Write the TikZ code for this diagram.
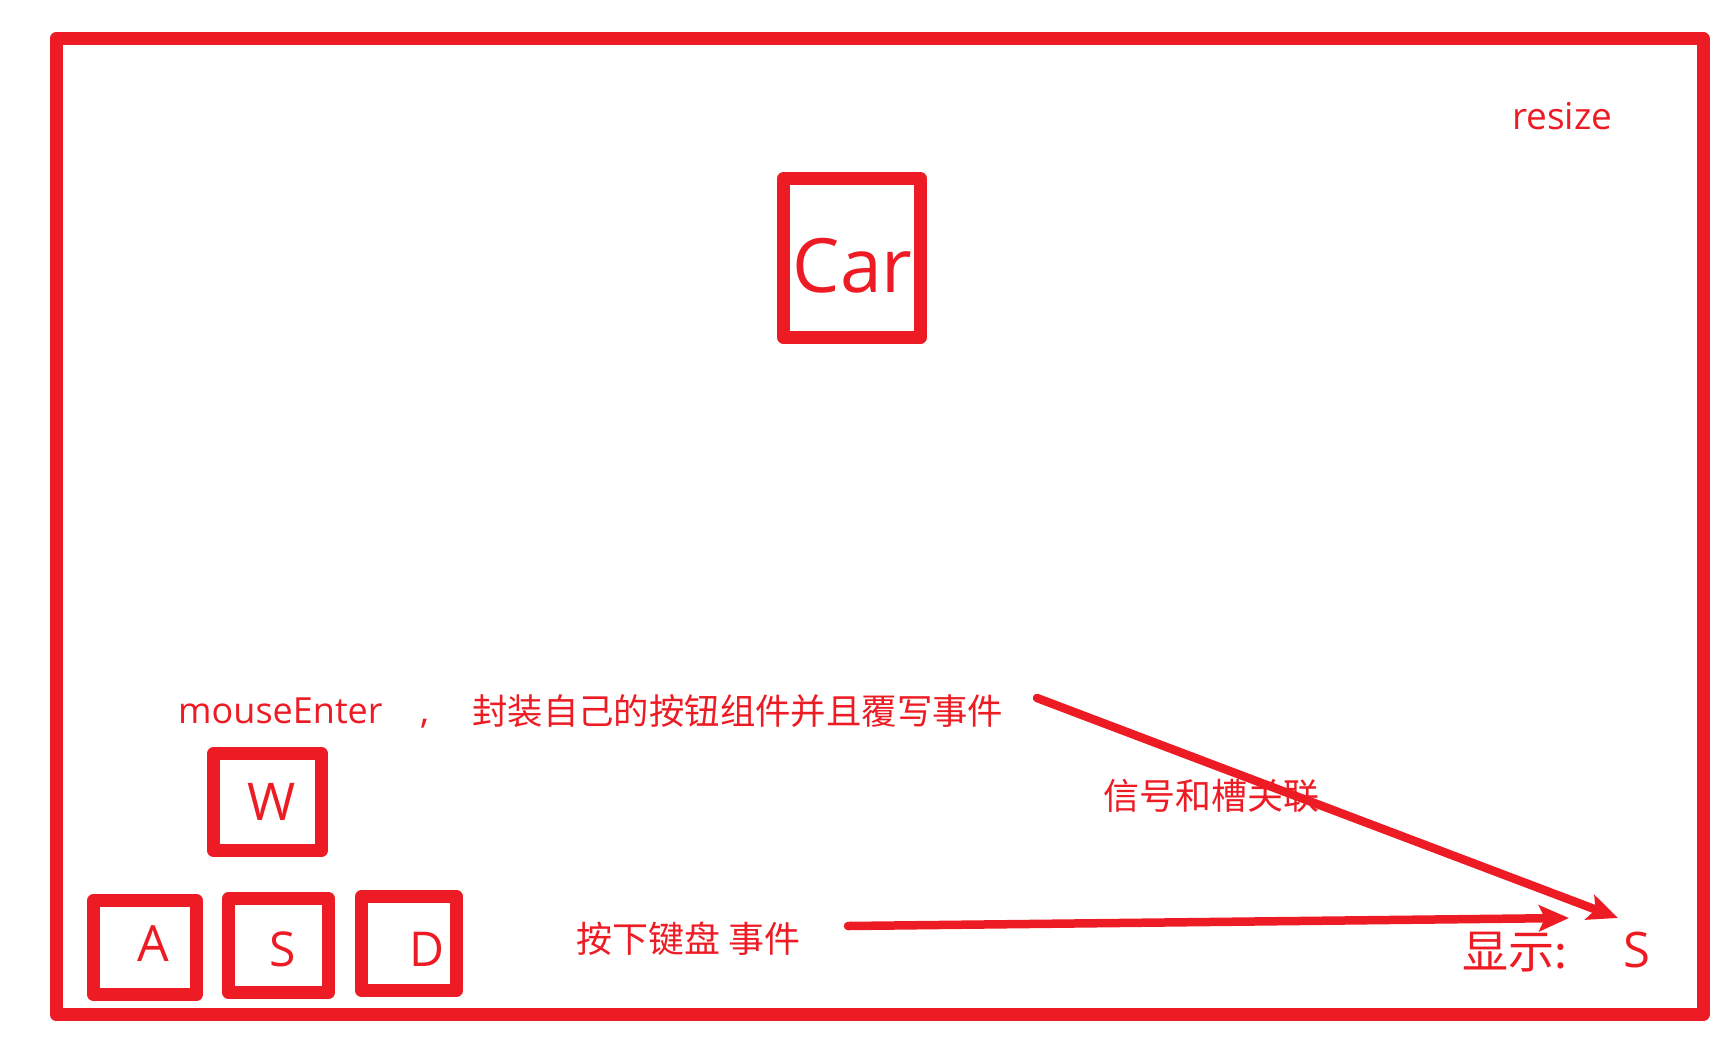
\documentclass[tikz,border=0pt]{standalone}
\usepackage{fontspec}
\setmainfont{Open Sans}
\newfontfamily\cjk{Noto Sans CJK SC}
\usetikzlibrary{arrows.meta}
\definecolor{pred}{RGB}{237,28,36}
\begin{document}
\begin{tikzpicture}[x=1pt,y=-1pt,
  box/.style={draw=pred,line width=13pt,line join=round,inner sep=0pt},
  txt/.style={text=pred,inner sep=0pt,anchor=base},
  ltxt/.style={text=pred,inner sep=0pt,anchor=base west},
  arr/.style={draw=pred,line width=8.5pt,line cap=round,-{Stealth[length=30pt,width=26pt,inset=6pt]}}]
\useasboundingbox (0,0) rectangle (1728,1046);
\node[box,minimum width=1647pt,minimum height=976pt] (frame) at (879.5,526.5) {};
\node[box,minimum width=137pt,minimum height=159pt] (carbox) at (852,258) {};
\node[box,minimum width=108pt,minimum height=97pt] (wbox) at (267.5,802) {};
\node[box,minimum width=103pt,minimum height=94pt] (abox) at (145,947.5) {};
\node[box,minimum width=100pt,minimum height=94pt] (sbox) at (278.5,945.5) {};
\node[box,minimum width=95pt,minimum height=94pt] (dbox) at (409,943.5) {};
\node[txt,font=\fontsize{75}{78}\selectfont] (cartxt) at (852.5,292) {Car};
\node[txt,font=\fontsize{52}{56}\selectfont] (wtxt) at (271.5,820) {W};
\node[txt,font=\fontsize{50}{54}\selectfont] (atxt) at (153,961) {A};
\node[txt,font=\fontsize{48}{52}\selectfont] (stxt) at (282.5,966) {S};
\node[txt,font=\fontsize{48}{52}\selectfont] (dtxt) at (427,966) {D};
\node[ltxt,font=\fontsize{37}{41}\selectfont] (resize) at (1512,129) {resize};
\node[ltxt,font=\fontsize{36}{40}\selectfont] (mouse) at (178,723) {mouseEnter};
\node[txt,font=\fontsize{37}{40}\selectfont] (comma) at (425,723) {,};
\node[ltxt,font=\cjk\fontsize{35.4}{40}\selectfont] (wrap) at (472,724.5) {封装自己的按钮组件并且覆写事件};
\node[ltxt,font=\cjk\fontsize{36}{40}\selectfont] (signal) at (1103,809) {信号和槽关联};
\node[ltxt,font=\cjk\fontsize{36}{40}\selectfont] (press) at (576,952.7) {按下键盘 事件};
\node[ltxt,font=\cjk\fontsize{46}{50}\selectfont] (show) at (1462,968.5) {显示:};
\node[txt,font=\fontsize{49}{53}\selectfont] (shown) at (1637,967) {S};
\coordinate (a1s) at (1037,698);
\coordinate (a1e) at (1618,918);
\coordinate (a2s) at (848,926);
\coordinate (a2e) at (1569,918);
\draw[arr] (a1s) -- (a1e);
\draw[arr] (a2s) -- (a2e);
\end{tikzpicture}
\end{document}
